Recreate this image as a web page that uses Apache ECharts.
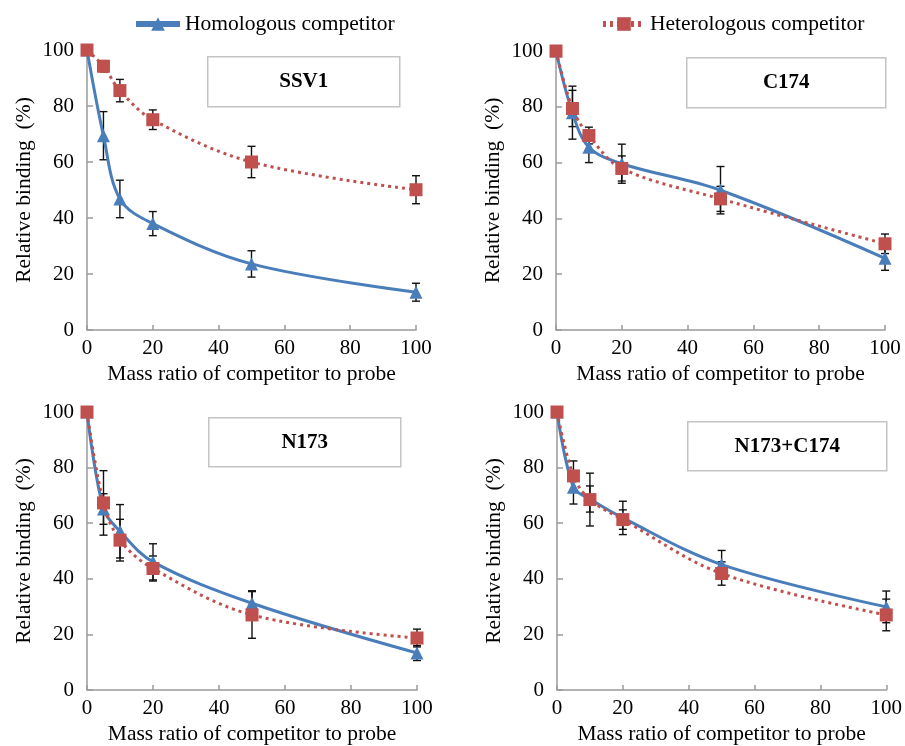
<!DOCTYPE html>
<html>
<head>
<meta charset="utf-8">
<script src="https://cdn.jsdelivr.net/npm/echarts@6/dist/echarts.min.js"></script>
<style>
  html, body { margin: 0; padding: 0; background: #fff; }
  #chart { width: 905px; height: 746px; }
</style>
</head>
<body>
<div id="chart"></div>
<script>
// competitor : probe mass ratios
var ratios = [0, 5, 10, 20, 50, 100]
var panelNames = ['SSV1', 'C174', 'N173', 'N173+C174']

// relative binding (%) for each panel
var homoSSV1 = [100, 69.4, 46.8, 38, 23.6, 13.5]
var homoSSV1Err = [0, 8.6, 6.7, 4.3, 4.7, 3.2]
var heteroSSV1 = [100, 94.2, 85.5, 75.1, 60, 50.1]
var heteroSSV1Err = [0, 2, 4, 3.5, 5.6, 5]

var homoC174 = [100, 77.9, 65.5, 59.6, 50.1, 25.7]
var homoC174Err = [0, 9.5, 5.5, 7, 8.5, 4.3]
var heteroC174 = [100, 79.4, 69.7, 57.9, 47, 30.9]
var heteroC174Err = [0, 6.5, 3, 4.5, 4.5, 3.5]

var homoN173 = [100, 65.1, 57.1, 46.1, 31.2, 13.3]
var homoN173Err = [0, 5.5, 9.6, 6.5, 4.5, 2.7]
var heteroN173 = [100, 67.3, 53.9, 43.7, 27, 18.7]
var heteroN173Err = [0, 11.6, 7.5, 4.5, 8.4, 3.2]

var homoNC = [100, 72.9, 68.7, 61.9, 45.1, 29.9]
var homoNCErr = [0, 6, 4.7, 6, 5.1, 5.7]
var heteroNC = [100, 77, 68.5, 61.3, 41.9, 27]
var heteroNCErr = [0, 5.4, 9.5, 3.5, 4.2, 5.7]

var yTicks = [0, 20, 40, 60, 80, 100]

var homo = [homoSSV1, homoC174, homoN173, homoNC]
var homoErr = [homoSSV1Err, homoC174Err, homoN173Err, homoNCErr]
var hetero = [heteroSSV1, heteroC174, heteroN173, heteroNC]
var heteroErr = [heteroSSV1Err, heteroC174Err, heteroN173Err, heteroNCErr]

var FONT = "'Liberation Serif', 'Times New Roman', serif"
var BLUE = '#4a7ebb'
var RED = '#c0504d'
var AXIS = '#9a9a9a'

var grids = [
  { left: 87, top: 50, width: 329, height: 280 },
  { left: 556, top: 51, width: 329, height: 279 },
  { left: 87, top: 412, width: 330, height: 280 },
  { left: 557, top: 412, width: 330, height: 280 }
]
var boxes = [
  { x: 207, y: 56, w: 192, h: 50 },
  { x: 686, y: 57, w: 199, h: 50 },
  { x: 208, y: 417, w: 192, h: 49 },
  { x: 687, y: 421, w: 199, h: 49 }
]

function pairs(vals) {
  return ratios.map(function (r, i) { return [r, vals[i]] })
}
function errData(vals, errs) {
  var out = []
  ratios.forEach(function (r, i) {
    if (errs[i] > 0) out.push([r, vals[i] - errs[i], vals[i] + errs[i]])
  })
  return out
}
function renderErr(params, api) {
  var lo = api.coord([api.value(0), api.value(1)])
  var hi = api.coord([api.value(0), api.value(2)])
  var c = 4
  var st = { stroke: '#111', lineWidth: 1.4 }
  return {
    type: 'group',
    children: [
      { type: 'line', shape: { x1: lo[0], y1: lo[1], x2: hi[0], y2: hi[1] }, style: st },
      { type: 'line', shape: { x1: lo[0] - c, y1: lo[1], x2: lo[0] + c, y2: lo[1] }, style: st },
      { type: 'line', shape: { x1: hi[0] - c, y1: hi[1], x2: hi[0] + c, y2: hi[1] }, style: st }
    ]
  }
}

var xAxes = [], yAxes = [], series = [], graphics = []
grids.forEach(function (g, i) {
  xAxes.push({
    gridIndex: i, type: 'value', min: 0, max: 100, interval: 20,
    name: 'Mass ratio of competitor to probe', nameLocation: 'middle', nameGap: 33,
    nameTextStyle: { fontFamily: FONT, fontSize: 21.5, color: '#000' },
    axisLine: { lineStyle: { color: AXIS, width: 1.5 } },
    axisTick: { inside: true, length: 5, lineStyle: { color: AXIS, width: 1.5 } },
    axisLabel: { fontFamily: FONT, fontSize: 21, color: '#000', margin: 8 },
    splitLine: { show: false }
  })
  yAxes.push({
    gridIndex: i, type: 'value', min: 0, max: 100, interval: 20,
    name: 'Relative binding  (%)', nameLocation: 'middle', nameGap: 52, nameRotate: 90,
    nameTextStyle: { fontFamily: FONT, fontSize: 21.5, color: '#000' },
    axisLine: { show: true, lineStyle: { color: AXIS, width: 1.5 } },
    axisTick: { show: true, inside: true, length: 6, lineStyle: { color: AXIS, width: 1.5 } },
    axisLabel: {
      fontFamily: FONT, fontSize: 21, color: '#000', margin: 13,
      formatter: function (v) { return yTicks.indexOf(v) >= 0 ? String(v) : '' }
    },
    splitLine: { show: false }
  })
  series.push({
    name: 'Homologous competitor', type: 'line', xAxisIndex: i, yAxisIndex: i,
    data: pairs(homo[i]), smooth: 0.35, symbol: 'triangle', symbolSize: 13,
    lineStyle: { color: BLUE, width: 3 }, itemStyle: { color: BLUE }, z: 3
  })
  series.push({
    name: 'Heterologous competitor', type: 'line', xAxisIndex: i, yAxisIndex: i,
    data: pairs(hetero[i]), smooth: 0.35, symbol: 'rect', symbolSize: 13,
    lineStyle: { color: RED, width: 3, type: [3, 4] }, itemStyle: { color: RED }, z: 4
  })
  series.push({
    type: 'custom', xAxisIndex: i, yAxisIndex: i, renderItem: renderErr,
    data: errData(homo[i], homoErr[i]), z: 2, silent: true
  })
  series.push({
    type: 'custom', xAxisIndex: i, yAxisIndex: i, renderItem: renderErr,
    data: errData(hetero[i], heteroErr[i]), z: 2, silent: true
  })
  var b = boxes[i]
  graphics.push({
    type: 'group', left: b.x, top: b.y,
    children: [
      { type: 'rect', shape: { x: 0, y: 0, width: b.w, height: b.h },
        style: { fill: '#fff', stroke: '#c4c4c4', lineWidth: 1.5 } },
      { type: 'text', x: b.w / 2, y: b.h / 2,
        style: { text: panelNames[i], fontFamily: FONT, fontSize: 21, fontWeight: 'bold',
                 fill: '#000', align: 'center', verticalAlign: 'middle' } }
    ]
  })
})

var chart = echarts.init(document.getElementById('chart'))
chart.setOption({
  animation: false,
  backgroundColor: '#fff',
  legend: [
    { data: ['Homologous competitor'], left: 128, top: 8, itemWidth: 44, itemHeight: 17, itemGap: 10,
      lineStyle: { width: 6 },
      textStyle: { fontFamily: FONT, fontSize: 21.5, color: '#000' } },
    { data: ['Heterologous competitor'], left: 595, top: 8, itemWidth: 42, itemHeight: 17, itemGap: 10,
      lineStyle: { width: 6 },
      textStyle: { fontFamily: FONT, fontSize: 21.5, color: '#000' } }
  ],
  grid: grids,
  xAxis: xAxes,
  yAxis: yAxes,
  series: series,
  graphic: graphics
})
</script>
</body>
</html>
